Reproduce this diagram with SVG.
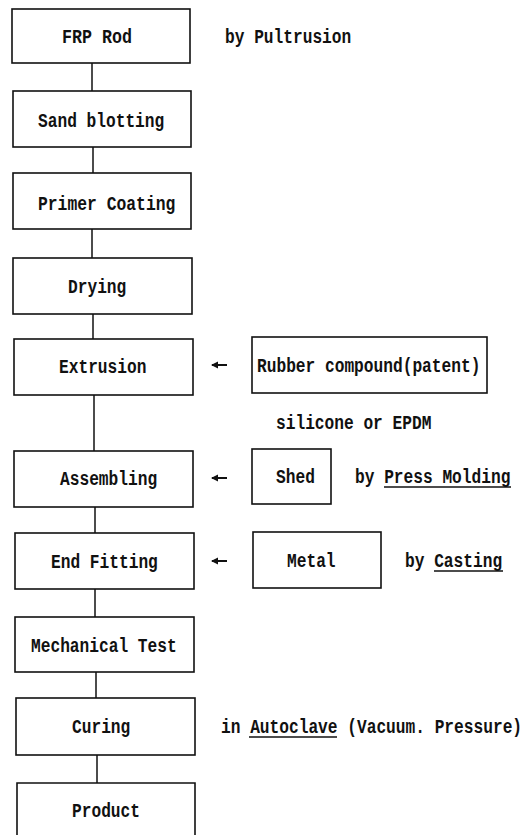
<svg xmlns="http://www.w3.org/2000/svg" width="532" height="835" viewBox="0 0 532 835">
<style>
.box{fill:#fff;stroke:#111;stroke-width:1.6}
.conn{fill:none;stroke:#111;stroke-width:1.5}
.arr{fill:none;stroke:#111;stroke-width:2}
text{font-family:"Liberation Mono","DejaVu Sans Mono",monospace;font-weight:bold;font-size:16.2px;fill:#111}
.ul{stroke:#111;stroke-width:1.5}
</style>
<defs>
<marker id="ah" markerWidth="8" markerHeight="8" refX="6" refY="4" orient="auto" markerUnits="userSpaceOnUse">
<path d="M0,0.5 L7,4 L0,7.5 Z" fill="#111"/>
</marker>
</defs>
<rect width="532" height="835" fill="#fff"/>
<g id="connectors">
<line class="conn" x1="92" y1="63" x2="92" y2="91"/>
<line class="conn" x1="93" y1="147" x2="93" y2="173"/>
<line class="conn" x1="92" y1="229" x2="92" y2="258"/>
<line class="conn" x1="93" y1="314" x2="93" y2="339"/>
<line class="conn" x1="94" y1="395" x2="94" y2="451"/>
<line class="conn" x1="95" y1="507" x2="95" y2="533"/>
<line class="conn" x1="95" y1="589" x2="95" y2="617"/>
<line class="conn" x1="96" y1="672" x2="96" y2="698"/>
<line class="conn" x1="97" y1="755" x2="97" y2="783"/>
<line class="arr" x1="227" y1="365" x2="212" y2="365" marker-end="url(#ah)"/>
<line class="arr" x1="227" y1="478" x2="212" y2="478" marker-end="url(#ah)"/>
<line class="arr" x1="227" y1="561" x2="212" y2="561" marker-end="url(#ah)"/>
</g>
<g id="frp-rod"><rect class="box" x="12" y="9" width="178" height="54"/><text transform="translate(62,43) scale(1.03,1.2)">FRP Rod</text></g>
<g id="pultrusion-note"><text transform="translate(225,43) scale(1,1.2)">by Pultrusion</text></g>
<g id="sand-blotting"><rect class="box" x="13" y="91" width="178" height="56"/><text transform="translate(38,127) scale(1,1.2)">Sand blotting</text></g>
<g id="primer-coating"><rect class="box" x="13" y="173" width="178" height="56"/><text transform="translate(38,210) scale(1.01,1.2)">Primer Coating</text></g>
<g id="drying"><rect class="box" x="13" y="258" width="179" height="56"/><text transform="translate(68,293) scale(1,1.2)">Drying</text></g>
<g id="extrusion"><rect class="box" x="14" y="339" width="179" height="56"/><text transform="translate(59,373) scale(1,1.2)">Extrusion</text></g>
<g id="rubber-compound"><rect class="box" x="252" y="337" width="235" height="56"/><text transform="translate(257,372) scale(1,1.2)">Rubber compound(patent)</text></g>
<g id="silicone-note"><text transform="translate(276,429) scale(1,1.2)">silicone or EPDM</text></g>
<g id="assembling"><rect class="box" x="14" y="451" width="179" height="56"/><text transform="translate(60,485) scale(1,1.2)">Assembling</text></g>
<g id="shed"><rect class="box" x="252" y="449" width="79" height="55"/><text transform="translate(276,483) scale(1,1.2)">Shed</text></g>
<g id="press-molding-note"><text transform="translate(355,483) scale(1,1.2)">by Press Molding</text><line class="ul" x1="384" y1="487" x2="511" y2="487"/></g>
<g id="end-fitting"><rect class="box" x="15" y="533" width="179" height="56"/><text transform="translate(51,568) scale(1,1.2)">End Fitting</text></g>
<g id="metal"><rect class="box" x="253" y="532" width="128" height="56"/><text transform="translate(287,567) scale(1,1.2)">Metal</text></g>
<g id="casting-note"><text transform="translate(405,567) scale(1,1.2)">by Casting</text><line class="ul" x1="434" y1="571" x2="503" y2="571"/></g>
<g id="mechanical-test"><rect class="box" x="15" y="617" width="179" height="55"/><text transform="translate(31,652) scale(1,1.2)">Mechanical Test</text></g>
<g id="curing"><rect class="box" x="16" y="698" width="179" height="57"/><text transform="translate(72,733) scale(1,1.2)">Curing</text></g>
<g id="autoclave-note"><text transform="translate(221,733) scale(1,1.2)">in Autoclave (Vacuum. Pressure)</text><line class="ul" x1="249" y1="737" x2="337" y2="737"/></g>
<g id="product"><path class="box" d="M17,836 L17,783 L195,783 L195,836"/><text transform="translate(72,817) scale(1,1.2)">Product</text></g>
</svg>
